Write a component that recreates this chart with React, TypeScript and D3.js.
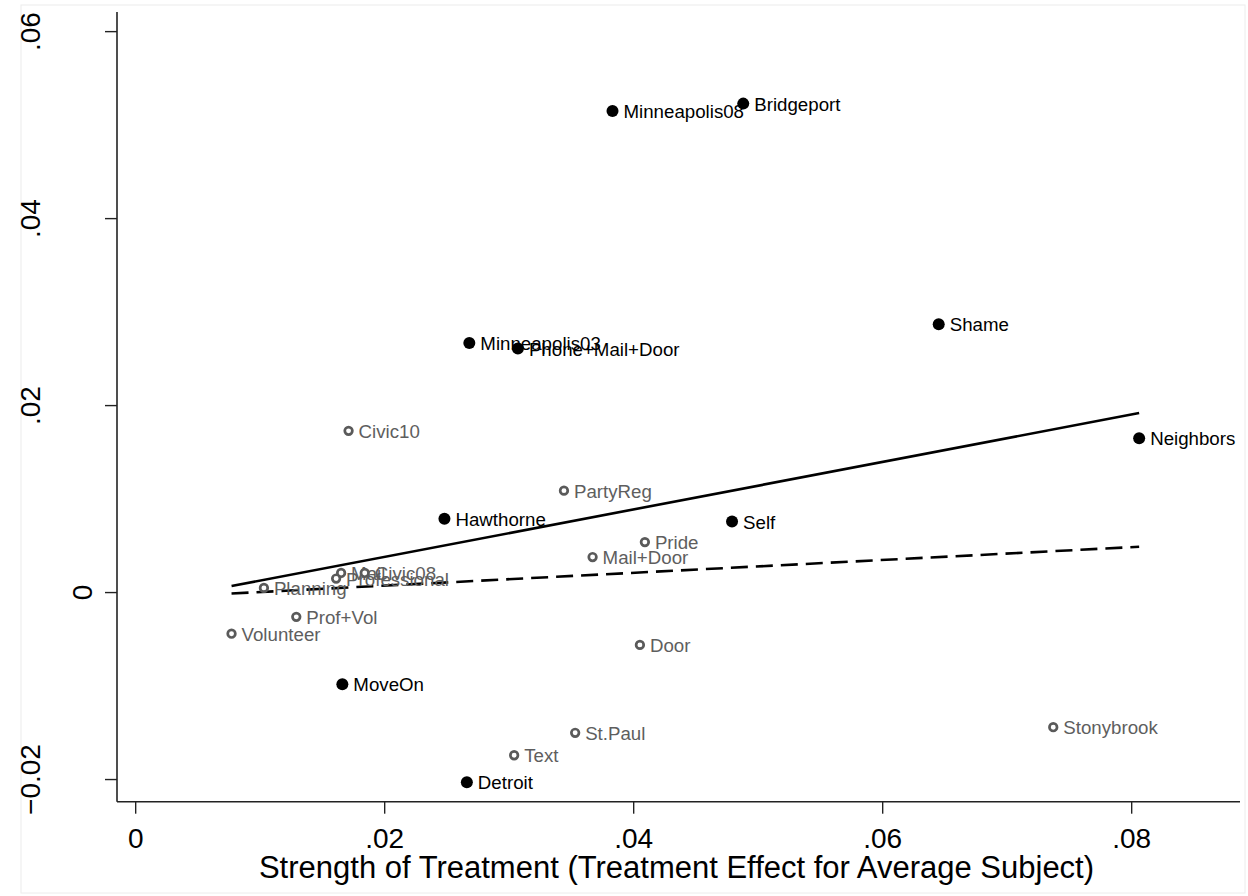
import * as d3 from "d3";
import React from "react";

// Experiments with a strong treatment effect (filled markers)
const filledNames = ["Minneapolis08", "Bridgeport", "Shame", "Minneapolis03", "Phone+Mail+Door", "Neighbors", "Hawthorne", "Self", "MoveOn", "Detroit"];
const filledX = [0.0383, 0.0488, 0.0645, 0.0268, 0.0307, 0.0806, 0.0248, 0.0479, 0.0166, 0.0266];
const filledY = [0.0515, 0.0523, 0.0287, 0.0267, 0.0261, 0.0165, 0.0079, 0.0076, -0.0098, -0.0203];

// Remaining experiments (hollow markers)
const hollowNames = ["Civic10", "PartyReg", "Pride", "Mail+Door", "Planning", "Mail", "Professional", "Civic08", "Prof+Vol", "Volunteer", "Door", "St.Paul", "Text", "Stonybrook"];
const hollowX = [0.0171, 0.0344, 0.0409, 0.0367, 0.0103, 0.0165, 0.0161, 0.0184, 0.0129, 0.0077, 0.0405, 0.0353, 0.0304, 0.0737];
const hollowY = [0.0173, 0.0109, 0.0054, 0.0038, 0.0005, 0.0021, 0.0015, 0.0021, -0.0026, -0.0044, -0.0056, -0.015, -0.0174, -0.0144];

// Fitted lines (endpoints at min / max x)
const fitX = [0.0077, 0.0806];
const solidFitY = [0.0007, 0.0192];
const dashedFitY = [-0.0001, 0.0049];

const xTicks = [0, 0.02, 0.04, 0.06, 0.08];
const yTicks = [-0.02, 0, 0.02, 0.04, 0.06];
const xTitle = "Strength of Treatment (Treatment Effect for Average Subject)";

const fmt = (v: number) => (v === 0 ? "0" : d3.format(".2f")(v).replace(/^(-?)0\./, "$1."));

export default function App() {
	const width = 1248;
	const height = 896;
	const font = "'Liberation Sans', Arial, Helvetica, sans-serif";

	const x = d3.scaleLinear().domain([-0.0015, 0.0887]).range([117, 1240]);
	const y = d3.scaleLinear().domain([-0.02237, 0.0621]).range([801.7, 12]);

	const fitLine = d3
		.line<[number, number]>()
		.x((d) => x(d[0]))
		.y((d) => y(d[1]));

	const solidPath = fitLine(fitX.map((v, i) => [v, solidFitY[i]] as [number, number]));
	const dashedPath = fitLine(fitX.map((v, i) => [v, dashedFitY[i]] as [number, number]));

	const [x0, x1] = x.range();
	const [yBottom, yTop] = y.range();

	return (
		<div style={{ position: "fixed", left: 0, top: 0 }}>
			<svg width={width} height={height} style={{ display: "block", background: "#fff" }} fontFamily={font}>
				<rect x={21} y={5} width={1224} height={888} fill="#fff" stroke="#ececec" strokeWidth={1} />

				{/* axes */}
				<line x1={x0} x2={x0} y1={yTop} y2={yBottom} stroke="#222" strokeWidth={1.6} />
				<line x1={x0} x2={x1} y1={yBottom} y2={yBottom} stroke="#222" strokeWidth={1.6} />

				{yTicks.map((t) => (
					<g key={"y" + t}>
						<line x1={x0 - 12} x2={x0} y1={y(t)} y2={y(t)} stroke="#222" strokeWidth={1.4} />
						{/* Stata puts the lone "0" nearer the axis than the other labels */}
						<text
							transform={`translate(${t === 0 ? 92 : 40},${y(t)}) rotate(-90)`}
							textAnchor="middle"
							fontSize={28}
							fill="#000"
						>
							{fmt(t)}
						</text>
					</g>
				))}

				{xTicks.map((t) => (
					<g key={"x" + t}>
						<line x1={x(t)} x2={x(t)} y1={yBottom} y2={yBottom + 12} stroke="#222" strokeWidth={1.4} />
						<text x={x(t)} y={848} textAnchor="middle" fontSize={28} fill="#000">
							{fmt(t)}
						</text>
					</g>
				))}

				<text x={(x0 + x1) / 2 - 2} y={878} textAnchor="middle" fontSize={31} fill="#000">
					{xTitle}
				</text>

				{/* fit lines */}
				<path d={solidPath ?? ""} fill="none" stroke="#000" strokeWidth={2.6} />
				<path d={dashedPath ?? ""} fill="none" stroke="#000" strokeWidth={2.6} strokeDasharray="17 8" />

				{/* hollow points */}
				{hollowNames.map((n, i) => (
					<g key={n}>
						<circle cx={x(hollowX[i])} cy={y(hollowY[i])} r={3.8} fill="#fff" stroke="#5a5a5a" strokeWidth={2.7} />
						<text x={x(hollowX[i]) + 10} y={y(hollowY[i]) + 7} fontSize={18.7} fill="#5e5e5e">
							{n}
						</text>
					</g>
				))}

				{/* filled points */}
				{filledNames.map((n, i) => (
					<g key={n}>
						<circle cx={x(filledX[i])} cy={y(filledY[i])} r={6} fill="#000" />
						<text x={x(filledX[i]) + 11} y={y(filledY[i]) + 7} fontSize={18.7} fill="#000">
							{n}
						</text>
					</g>
				))}
			</svg>
		</div>
	);
}
